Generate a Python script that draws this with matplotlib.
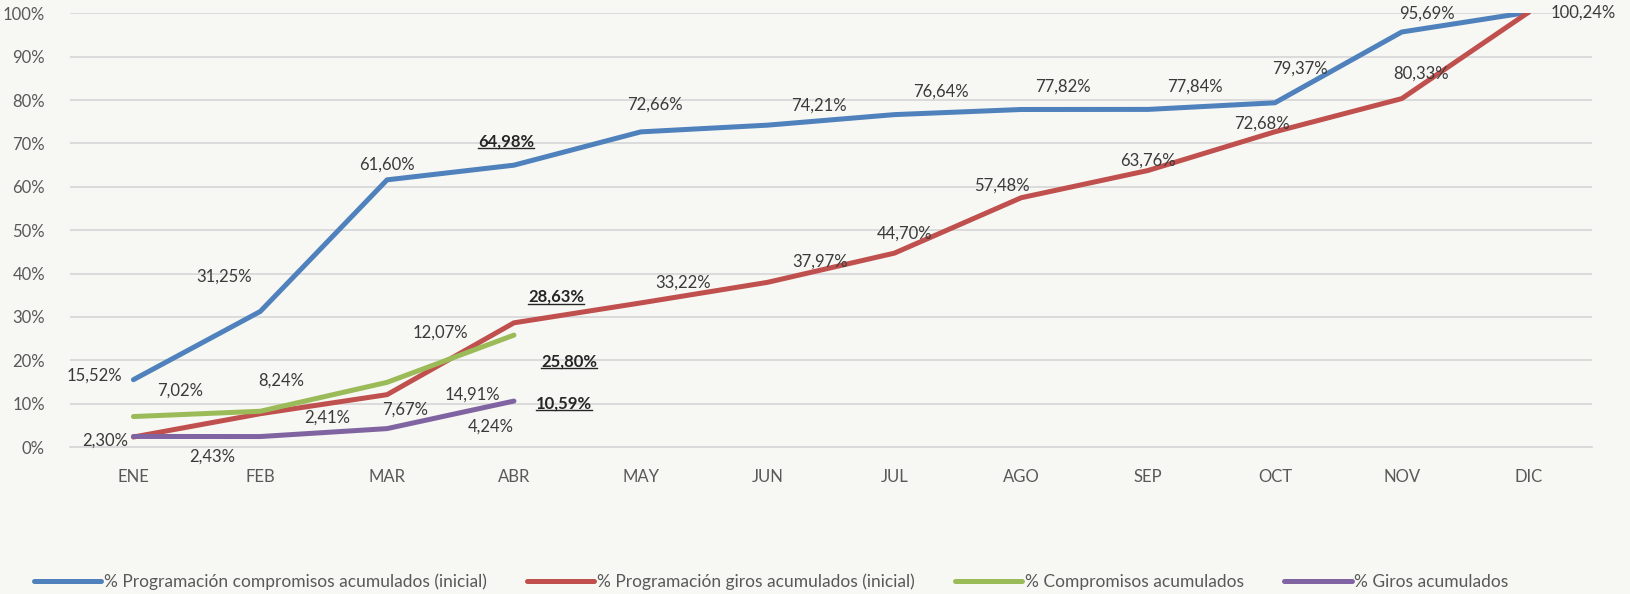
import matplotlib
matplotlib.use("Agg")
import matplotlib.pyplot as plt
from matplotlib.ticker import PercentFormatter
from matplotlib.lines import Line2D
from matplotlib.transforms import IdentityTransform

plt.rcParams['font.family'] = ['Lato', 'DejaVu Sans']

meses = ['ENE', 'FEB', 'MAR', 'ABR', 'MAY', 'JUN', 'JUL', 'AGO', 'SEP', 'OCT', 'NOV', 'DIC']

prog_compromisos = [15.52, 31.25, 61.60, 64.98, 72.66, 74.21, 76.64, 77.82, 77.84, 79.37, 95.69, 100.24]
prog_giros = [2.30, 7.67, 12.07, 28.63, 33.22, 37.97, 44.70, 57.48, 63.76, 72.68, 80.33, 100.24]
compromisos = [7.02, 8.24, 14.91, 25.80]
giros = [2.43, 2.41, 4.24, 10.59]

nombres = ['% Programación compromisos acumulados (inicial)',
           '% Programación giros acumulados (inicial)',
           '% Compromisos acumulados',
           '% Giros acumulados']
colores = ['#4f81bd', '#c0504d', '#9bbb59', '#8064a2']

# label offsets in pixels (dx, dy); None = no label
off_blue = [(-39, 4), (-36, 35), (0, 15), (-8, 24), (14, 27), (51, 20), (47, 23),
            (42, 23), (47, 23), (25, 34), (25, 18), None]
off_red = [(-28, -4), (145, 4), (53, 62), (42, 26), (42, 20), (53, 21), (10, 20),
           (-19, 12), (0, 10), (-13, 8), (19, 25), (55, 0)]
off_green = [(47, 26), (21, 31), (85, -12), (55, -26)]
off_purple = [(79, -20), (67, 19), (104, 2), (50, -2)]
destacados = {(0, 3), (1, 3), (2, 3), (3, 3)}  # bold + underlined labels

bg = '#f7f7f3'
fig = plt.figure(figsize=(16.3, 5.94), dpi=100, facecolor=bg)
ax = fig.add_axes([70 / 1630, 1 - 447 / 594, 1522 / 1630, 433.7 / 594])
ax.set_facecolor(bg)

series = [prog_compromisos, prog_giros, compromisos, giros]
offsets = [off_blue, off_red, off_green, off_purple]

for k, (vals, col, nom) in enumerate(zip(series, colores, nombres)):
    ax.plot(range(len(vals)), vals, color=col, lw=3.6, label=nom,
            solid_capstyle='round', solid_joinstyle='round', zorder=3)

bold_texts = []
for k, (vals, offs) in enumerate(zip(series, offsets)):
    for i, v in enumerate(vals):
        if offs[i] is None:
            continue
        txt = f"{v:.2f}".replace('.', ',') + '%'
        bold = (k, i) in destacados
        t = ax.annotate(txt, xy=(i, v), xytext=offs[i], textcoords='offset pixels',
                        ha='center', va='center', fontsize=12,
                        color='#262626' if bold else '#3a3a3a',
                        fontweight='bold' if bold else 'normal',
                        annotation_clip=False, zorder=5)
        if bold:
            bold_texts.append(t)

ax.set_xlim(-0.5, 11.5)
ax.set_ylim(0, 100)
ax.set_xticks(range(12))
ax.set_xticklabels(meses)
ax.set_yticks(range(0, 101, 10))
ax.yaxis.set_major_formatter(PercentFormatter(100, decimals=0))
ax.tick_params(axis='both', length=0, labelsize=12, labelcolor='#595959')
ax.tick_params(axis='x', pad=16)
ax.tick_params(axis='y', pad=18)
ax.grid(axis='y', color='#d9d9d9', lw=1.3, zorder=0)
for s in ['top', 'right', 'left']:
    ax.spines[s].set_visible(False)
ax.spines['bottom'].set_color('#d9d9d9')
ax.spines['bottom'].set_linewidth(1.3)

fig.legend(loc='center', bbox_to_anchor=(0.473, 0.02), ncol=4, frameon=False,
           fontsize=12.5, handlelength=3.9, handletextpad=0.15, columnspacing=2.3,
           labelcolor='#595959')

fig.canvas.draw()
r = fig.canvas.get_renderer()
for t in bold_texts:
    bb = t.get_window_extent(r)
    fig.add_artist(Line2D([bb.x0, bb.x1], [bb.y0 + 1, bb.y0 + 1], color='#262626',
                          lw=1.0, transform=IdentityTransform()))

fig.savefig('out.png', dpi=100, facecolor=bg)
